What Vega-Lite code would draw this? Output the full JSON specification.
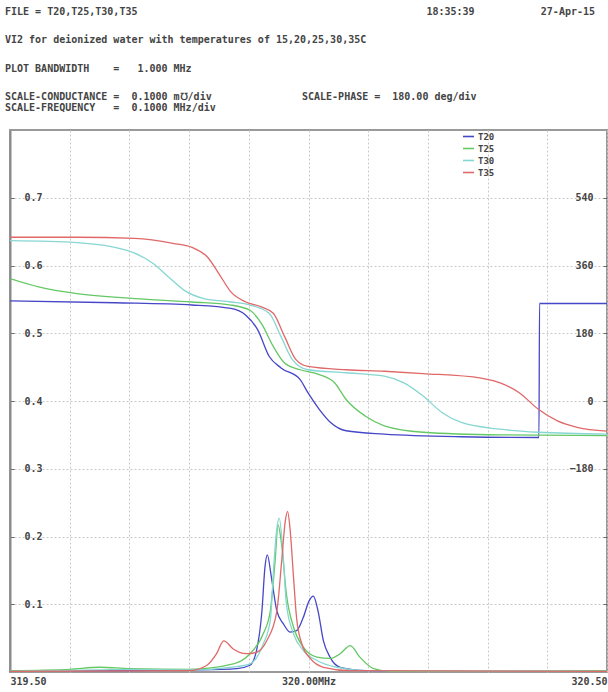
{
  "$schema": "https://vega.github.io/schema/vega-lite/v6.json",
  "width": 597,
  "height": 542,
  "autosize": {"type": "none"},
  "padding": {"left": 10, "top": 130, "right": 1, "bottom": 20},
  "background": "white",
  "config": {
    "view": {"stroke": "#9a9a9a", "strokeWidth": 2},
    "font": "DejaVu Sans Mono"
  },
  "title": {
    "text": [
      "FILE = T20,T25,T30,T35\u00a0\u00a0\u00a0\u00a0\u00a0\u00a0\u00a0\u00a0\u00a0\u00a0\u00a0\u00a0\u00a0\u00a0\u00a0\u00a0\u00a0\u00a0\u00a0\u00a0\u00a0\u00a0\u00a0\u00a0\u00a0\u00a0\u00a0\u00a0\u00a0\u00a0\u00a0\u00a0\u00a0\u00a0\u00a0\u00a0\u00a0\u00a0\u00a0\u00a0\u00a0\u00a0\u00a0\u00a0\u00a0\u00a0\u00a0\u00a018:35:39\u00a0\u00a0\u00a0\u00a0\u00a0\u00a0\u00a0\u00a0\u00a0\u00a0\u00a027-Apr-15",
      "VI2 for deionized water with temperatures of 15,20,25,30,35C",
      "PLOT BANDWIDTH\u00a0\u00a0\u00a0\u00a0=\u00a0\u00a0\u00a01.000 MHz",
      "SCALE-CONDUCTANCE =\u00a0\u00a00.1000 m\u2127/div\u00a0\u00a0\u00a0\u00a0\u00a0\u00a0\u00a0\u00a0\u00a0\u00a0\u00a0\u00a0\u00a0\u00a0\u00a0SCALE-PHASE =\u00a0\u00a0180.00 deg/div"
    ],
    "subtitle": "SCALE-FREQUENCY\u00a0\u00a0\u00a0=\u00a0\u00a00.1000 MHz/div",
    "anchor": "start",
    "frame": "group",
    "font": "DejaVu Sans Mono",
    "fontSize": 10,
    "fontWeight": "bold",
    "color": "#444444",
    "lineHeight": 28.5,
    "subtitleFont": "DejaVu Sans Mono",
    "subtitleFontSize": 10,
    "subtitleFontWeight": "bold",
    "subtitleColor": "#444444",
    "subtitleLineHeight": 12,
    "subtitlePadding": 1,
    "offset": 17,
    "dx": -5
  },
  "datasets": {
    "cond": [
      {"series": "T20", "f": 319.5, "g": 0.002},
      {"series": "T20", "f": 319.7, "g": 0.002},
      {"series": "T20", "f": 319.82, "g": 0.003},
      {"series": "T20", "f": 319.88, "g": 0.005},
      {"series": "T20", "f": 319.902, "g": 0.01},
      {"series": "T20", "f": 319.913, "g": 0.032},
      {"series": "T20", "f": 319.922, "g": 0.09},
      {"series": "T20", "f": 319.927, "g": 0.154},
      {"series": "T20", "f": 319.931, "g": 0.173},
      {"series": "T20", "f": 319.938, "g": 0.139},
      {"series": "T20", "f": 319.947, "g": 0.09},
      {"series": "T20", "f": 319.958, "g": 0.071},
      {"series": "T20", "f": 319.969, "g": 0.059},
      {"series": "T20", "f": 319.98, "g": 0.061},
      {"series": "T20", "f": 319.991, "g": 0.08},
      {"series": "T20", "f": 320.001, "g": 0.105},
      {"series": "T20", "f": 320.008, "g": 0.112},
      {"series": "T20", "f": 320.016, "g": 0.09},
      {"series": "T20", "f": 320.025, "g": 0.046},
      {"series": "T20", "f": 320.036, "g": 0.022},
      {"series": "T20", "f": 320.053, "g": 0.007},
      {"series": "T20", "f": 320.097, "g": 0.002},
      {"series": "T20", "f": 320.2, "g": 0.001},
      {"series": "T20", "f": 320.5, "g": 0.001},

      {"series": "T25", "f": 319.5, "g": 0.002},
      {"series": "T25", "f": 319.6, "g": 0.004},
      {"series": "T25", "f": 319.65, "g": 0.007},
      {"series": "T25", "f": 319.7, "g": 0.005},
      {"series": "T25", "f": 319.8, "g": 0.004},
      {"series": "T25", "f": 319.874, "g": 0.012},
      {"series": "T25", "f": 319.902, "g": 0.027},
      {"series": "T25", "f": 319.924, "g": 0.056},
      {"series": "T25", "f": 319.936, "g": 0.09},
      {"series": "T25", "f": 319.944, "g": 0.163},
      {"series": "T25", "f": 319.949, "g": 0.217},
      {"series": "T25", "f": 319.955, "g": 0.188},
      {"series": "T25", "f": 319.963, "g": 0.115},
      {"series": "T25", "f": 319.975, "g": 0.066},
      {"series": "T25", "f": 319.991, "g": 0.037},
      {"series": "T25", "f": 320.014, "g": 0.022},
      {"series": "T25", "f": 320.036, "g": 0.02},
      {"series": "T25", "f": 320.053, "g": 0.027},
      {"series": "T25", "f": 320.07, "g": 0.039},
      {"series": "T25", "f": 320.086, "g": 0.022},
      {"series": "T25", "f": 320.109, "g": 0.005},
      {"series": "T25", "f": 320.137, "g": 0.001},
      {"series": "T25", "f": 320.3, "g": 0.001},
      {"series": "T25", "f": 320.5, "g": 0.002},

      {"series": "T30", "f": 319.5, "g": 0.001},
      {"series": "T30", "f": 319.65, "g": 0.003},
      {"series": "T30", "f": 319.7, "g": 0.004},
      {"series": "T30", "f": 319.8, "g": 0.003},
      {"series": "T30", "f": 319.88, "g": 0.008},
      {"series": "T30", "f": 319.902, "g": 0.012},
      {"series": "T30", "f": 319.924, "g": 0.041},
      {"series": "T30", "f": 319.936, "g": 0.076},
      {"series": "T30", "f": 319.942, "g": 0.159},
      {"series": "T30", "f": 319.947, "g": 0.212},
      {"series": "T30", "f": 319.951, "g": 0.227},
      {"series": "T30", "f": 319.957, "g": 0.178},
      {"series": "T30", "f": 319.963, "g": 0.1},
      {"series": "T30", "f": 319.975, "g": 0.056},
      {"series": "T30", "f": 319.991, "g": 0.032},
      {"series": "T30", "f": 320.014, "g": 0.017},
      {"series": "T30", "f": 320.047, "g": 0.007},
      {"series": "T30", "f": 320.097, "g": 0.002},
      {"series": "T30", "f": 320.5, "g": 0.001},

      {"series": "T35", "f": 319.5, "g": 0.001},
      {"series": "T35", "f": 319.8, "g": 0.002},
      {"series": "T35", "f": 319.83, "g": 0.01},
      {"series": "T35", "f": 319.846, "g": 0.027},
      {"series": "T35", "f": 319.858, "g": 0.046},
      {"series": "T35", "f": 319.874, "g": 0.034},
      {"series": "T35", "f": 319.896, "g": 0.027},
      {"series": "T35", "f": 319.913, "g": 0.029},
      {"series": "T35", "f": 319.93, "g": 0.046},
      {"series": "T35", "f": 319.947, "g": 0.09},
      {"series": "T35", "f": 319.955, "g": 0.163},
      {"series": "T35", "f": 319.961, "g": 0.222},
      {"series": "T35", "f": 319.965, "g": 0.237},
      {"series": "T35", "f": 319.969, "g": 0.212},
      {"series": "T35", "f": 319.975, "g": 0.139},
      {"series": "T35", "f": 319.98, "g": 0.08},
      {"series": "T35", "f": 319.989, "g": 0.041},
      {"series": "T35", "f": 320.003, "g": 0.02},
      {"series": "T35", "f": 320.025, "g": 0.007},
      {"series": "T35", "f": 320.07, "g": 0.002},
      {"series": "T35", "f": 320.5, "g": 0.001}
    ],
    "phase": [
      {"series": "T20", "f": 319.5, "p": 266},
      {"series": "T20", "f": 319.676, "p": 261},
      {"series": "T20", "f": 319.805, "p": 255},
      {"series": "T20", "f": 319.87, "p": 246},
      {"series": "T20", "f": 319.895, "p": 228},
      {"series": "T20", "f": 319.915, "p": 189},
      {"series": "T20", "f": 319.934, "p": 119},
      {"series": "T20", "f": 319.954, "p": 88},
      {"series": "T20", "f": 319.986, "p": 57},
      {"series": "T20", "f": 319.999, "p": 22},
      {"series": "T20", "f": 320.018, "p": -22},
      {"series": "T20", "f": 320.037, "p": -57},
      {"series": "T20", "f": 320.063, "p": -79},
      {"series": "T20", "f": 320.127, "p": -88},
      {"series": "T20", "f": 320.256, "p": -95},
      {"series": "T20", "f": 320.386, "p": -97},
      {"series": "T20", "f": 320.387, "p": 259},
      {"series": "T20", "f": 320.5, "p": 259},

      {"series": "T25", "f": 319.5, "p": 325},
      {"series": "T25", "f": 319.548, "p": 303},
      {"series": "T25", "f": 319.612, "p": 285},
      {"series": "T25", "f": 319.709, "p": 272},
      {"series": "T25", "f": 319.805, "p": 263},
      {"series": "T25", "f": 319.87, "p": 255},
      {"series": "T25", "f": 319.902, "p": 241},
      {"series": "T25", "f": 319.921, "p": 206},
      {"series": "T25", "f": 319.941, "p": 145},
      {"series": "T25", "f": 319.96, "p": 101},
      {"series": "T25", "f": 319.986, "p": 83},
      {"series": "T25", "f": 320.018, "p": 70},
      {"series": "T25", "f": 320.044, "p": 48},
      {"series": "T25", "f": 320.063, "p": 4},
      {"series": "T25", "f": 320.095, "p": -40},
      {"series": "T25", "f": 320.127, "p": -66},
      {"series": "T25", "f": 320.192, "p": -83},
      {"series": "T25", "f": 320.321, "p": -90},
      {"series": "T25", "f": 320.5, "p": -92},

      {"series": "T30", "f": 319.5, "p": 426},
      {"series": "T30", "f": 319.612, "p": 421},
      {"series": "T30", "f": 319.696, "p": 400},
      {"series": "T30", "f": 319.741, "p": 364},
      {"series": "T30", "f": 319.766, "p": 329},
      {"series": "T30", "f": 319.792, "p": 294},
      {"series": "T30", "f": 319.825, "p": 272},
      {"series": "T30", "f": 319.87, "p": 263},
      {"series": "T30", "f": 319.902, "p": 255},
      {"series": "T30", "f": 319.934, "p": 233},
      {"series": "T30", "f": 319.954, "p": 171},
      {"series": "T30", "f": 319.973, "p": 110},
      {"series": "T30", "f": 319.999, "p": 83},
      {"series": "T30", "f": 320.063, "p": 75},
      {"series": "T30", "f": 320.127, "p": 66},
      {"series": "T30", "f": 320.16, "p": 48},
      {"series": "T30", "f": 320.192, "p": 13},
      {"series": "T30", "f": 320.224, "p": -31},
      {"series": "T30", "f": 320.256, "p": -57},
      {"series": "T30", "f": 320.321, "p": -75},
      {"series": "T30", "f": 320.385, "p": -83},
      {"series": "T30", "f": 320.5, "p": -88},

      {"series": "T35", "f": 319.5, "p": 435},
      {"series": "T35", "f": 319.612, "p": 435},
      {"series": "T35", "f": 319.709, "p": 432},
      {"series": "T35", "f": 319.773, "p": 419},
      {"series": "T35", "f": 319.805, "p": 408},
      {"series": "T35", "f": 319.831, "p": 382},
      {"series": "T35", "f": 319.85, "p": 338},
      {"series": "T35", "f": 319.87, "p": 290},
      {"series": "T35", "f": 319.895, "p": 263},
      {"series": "T35", "f": 319.921, "p": 250},
      {"series": "T35", "f": 319.941, "p": 233},
      {"series": "T35", "f": 319.96, "p": 171},
      {"series": "T35", "f": 319.979, "p": 110},
      {"series": "T35", "f": 319.999, "p": 92},
      {"series": "T35", "f": 320.063, "p": 83},
      {"series": "T35", "f": 320.127, "p": 79},
      {"series": "T35", "f": 320.192, "p": 73},
      {"series": "T35", "f": 320.289, "p": 61},
      {"series": "T35", "f": 320.321, "p": 48},
      {"series": "T35", "f": 320.353, "p": 22},
      {"series": "T35", "f": 320.385, "p": -22},
      {"series": "T35", "f": 320.417, "p": -53},
      {"series": "T35", "f": 320.45, "p": -70},
      {"series": "T35", "f": 320.5, "p": -80}
    ]
  },
  "encoding": {
    "x": {
      "field": "f",
      "type": "quantitative",
      "scale": {"domain": [319.5, 320.5], "nice": false, "zero": false},
      "axis": {
        "title": null,
        "values": [319.5, 319.6, 319.7, 319.8, 319.9, 320, 320.1, 320.2, 320.3, 320.4, 320.5],
        "labelExpr": "datum.value == 319.5 ? '319.50' : datum.value == 320 ? '320.00MHz' : datum.value == 320.5 ? '320.50' : ''",
        "labelFlush": true,
        "labelOverlap": false,
        "labelFont": "DejaVu Sans Mono",
        "labelFontSize": 10,
        "labelFontWeight": "bold",
        "labelColor": "#444444",
        "labelPadding": 4,
        "ticks": false,
        "domain": false,
        "grid": true,
        "gridColor": "#c8c8c8",
        "gridDash": [2, 2],
        "gridWidth": 1
      }
    },
    "color": {
      "field": "series",
      "type": "nominal",
      "scale": {
        "domain": ["T20", "T25", "T30", "T35"],
        "range": ["#4646c8", "#64c864", "#86d6d2", "#e06868"]
      },
      "legend": {
        "title": null,
        "orient": "none",
        "legendX": 452,
        "legendY": 0,
        "padding": 0,
        "symbolType": "stroke",
        "symbolSize": 120,
        "symbolStrokeWidth": 1.6,
        "labelFont": "DejaVu Sans Mono",
        "labelFontSize": 9,
        "labelFontWeight": "bold",
        "labelColor": "#444444",
        "labelOffset": 3,
        "rowPadding": -3
      }
    }
  },
  "layer": [
    {
      "data": {"name": "cond"},
      "mark": {"type": "line", "strokeWidth": 1.3, "interpolate": "monotone", "clip": true},
      "encoding": {
        "y": {
          "field": "g",
          "type": "quantitative",
          "scale": {"domain": [0, 0.8], "nice": false, "zero": false},
          "axis": {
            "title": null,
            "orient": "left",
            "values": [0.1, 0.2, 0.3, 0.4, 0.5, 0.6, 0.7],
            "format": ".1f",
            "labelAlign": "left",
            "labelBaseline": "middle",
            "labelPadding": -10,
            "tickSize": -4,
            "tickColor": "#666666",
            "labelFont": "DejaVu Sans Mono",
            "labelFontSize": 10,
            "labelFontWeight": "bold",
            "labelColor": "#444444",
            "domain": true,
            "domainColor": "#8a8a8a",
            "domainWidth": 2,
            "grid": true,
            "gridColor": "#c8c8c8",
            "gridDash": [2, 2],
            "gridWidth": 1
          }
        }
      }
    },
    {
      "data": {"name": "phase"},
      "mark": {"type": "line", "strokeWidth": 1.3, "interpolate": "monotone", "clip": true},
      "encoding": {
        "y": {
          "field": "p",
          "type": "quantitative",
          "scale": {"domain": [-720, 720], "nice": false, "zero": false},
          "axis": {
            "title": null,
            "orient": "right",
            "values": [-540, -360, -180, 0, 180, 360, 540],
            "labelExpr": "datum.value < -200 ? '' : format(datum.value, 'd')",
            "labelAlign": "right",
            "labelBaseline": "middle",
            "labelPadding": -10,
            "tickSize": -4,
            "tickColor": "#666666",
            "labelFont": "DejaVu Sans Mono",
            "labelFontSize": 10,
            "labelFontWeight": "bold",
            "labelColor": "#444444",
            "domain": false,
            "grid": false
          }
        }
      }
    }
  ],
  "resolve": {"scale": {"y": "independent"}}
}
